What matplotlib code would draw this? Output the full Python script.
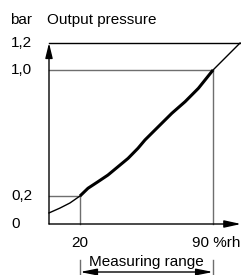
import numpy as np
import matplotlib
matplotlib.use("Agg")
import matplotlib.pyplot as plt
from matplotlib.scale import FuncScale
import matplotlib.transforms as mtransforms

plt.rcParams['font.family'] = ['Liberation Sans', 'DejaVu Sans']

# ---- data ----
y_ticks = [0, 0.2, 1.0, 1.2]
y_tick_labels = ["0", "0,2", "1,0", "1,2"]
x_ticks = [20, 90]
x_tick_labels = ["20", "90 %rh"]

# characteristic curve (%rh -> bar)
lower_x = [3.7, 9.5, 14.7, 20]
lower_y = [0.079, 0.114, 0.15, 0.2]
main_x = [20, 24.2, 29.5, 34.7, 40.0, 45.3, 50.5, 54.2, 61.2, 68.3, 75.3, 82.3, 90]
main_y = [0.2, 0.249, 0.291, 0.333, 0.386, 0.439, 0.503, 0.556, 0.64, 0.725, 0.799, 0.884, 1.0]
upper_x = [90, 104.2]
upper_y = [1.0, 1.2]

range_lo, range_hi = 20, 90

# diagrammatic (non-linear) vertical scale
sc_vals = [0, 0.2, 1.0, 1.2]
sc_pos = [0, 28, 154, 181]
def fwd(v):
    return np.interp(v, sc_vals, sc_pos)
def inv(p):
    return np.interp(p, sc_pos, sc_vals)

W, H = 241, 275
fig = plt.figure(figsize=(W / 100, H / 100), dpi=100)
ax = fig.add_axes([49 / W, 51 / H, 192 / W, 181 / H])
ax.set_yscale(FuncScale(ax.yaxis, (fwd, inv)))
ax.set_xlim(3.7, 104.7)
ax.set_ylim(0, 1.2)
for s in ax.spines.values():
    s.set_visible(False)

grey = "#6e6e6e"
fs = 11

# guide lines
ax.plot([3.7, 90], [1.0, 1.0], color=grey, lw=1.0, clip_on=False)
ax.plot([3.7, 20], [0.2, 0.2], color=grey, lw=1.0, clip_on=False)
ax.plot([20, 20], [-0.02, 0.2], color=grey, lw=1.0, clip_on=False)
ax.plot([90, 90], [-0.02, 1.0], color=grey, lw=1.0, clip_on=False)
ax.plot([3.7, 104.5], [1.2, 1.2], color="black", lw=1.0, clip_on=False)

# axes with arrows
ax.annotate("", xy=(3.7, 1.2), xytext=(3.7, 0), xycoords="data",
            arrowprops=dict(arrowstyle="-|>,head_length=0.9,head_width=0.22",
                            color="black", lw=1.0, shrinkA=0, shrinkB=0),
            annotation_clip=False)
ax.annotate("", xy=(104.7, 0), xytext=(3.7, 0), xycoords="data",
            arrowprops=dict(arrowstyle="-|>,head_length=1.0,head_width=0.22",
                            color="black", lw=1.0, shrinkA=0, shrinkB=0),
            annotation_clip=False)

# curve
ax.plot(lower_x, lower_y, color="black", lw=1.0, clip_on=False)
ax.plot(main_x, main_y, color="black", lw=2.2, clip_on=False,
        solid_capstyle="butt", solid_joinstyle="round")
ax.plot(upper_x, upper_y, color="black", lw=1.0, clip_on=False)

# tick labels
ax.set_xticks([])
ax.set_yticks([])
ylab_tr = mtransforms.blended_transform_factory(fig.transFigure, ax.transData)
for v, lab in zip(y_ticks, y_tick_labels):
    ax.text(11 / W, v, lab, transform=ylab_tr, ha="left", va="center", fontsize=fs)

xlab_tr = mtransforms.blended_transform_factory(ax.transData, fig.transFigure)
ax.text(x_ticks[0], 1 - 243 / H, x_tick_labels[0], transform=xlab_tr,
        ha="center", va="center", fontsize=fs)
off = mtransforms.ScaledTranslation(-21 / 100, 0, fig.dpi_scale_trans)
ax.text(x_ticks[1], 1 - 243 / H, x_tick_labels[1], transform=xlab_tr + off,
        ha="left", va="center", fontsize=fs)

# titles
fig.text(10 / W, 1 - 20 / H, "bar", ha="left", va="center", fontsize=fs)
fig.text(47 / W, 1 - 20 / H, "Output pressure", ha="left", va="center", fontsize=fs)

# measuring range annotation
for xv in (range_lo, range_hi):
    ax.plot([xv, xv], [1 - 260 / H, 1 - 276 / H], color=grey, lw=1.0,
            transform=xlab_tr, clip_on=False)
ax.annotate("", xy=(range_lo, 1 - 272 / H), xytext=(range_hi, 1 - 272 / H),
            xycoords=xlab_tr,
            arrowprops=dict(arrowstyle="<|-|>,head_length=1.0,head_width=0.2",
                            color="black", lw=1.0, shrinkA=0, shrinkB=0),
            annotation_clip=False)
ax.text((range_lo + range_hi) / 2, 1 - 262 / H, "Measuring range",
        transform=xlab_tr, ha="center", va="center", fontsize=fs)

fig.savefig("out.png", dpi=100)
